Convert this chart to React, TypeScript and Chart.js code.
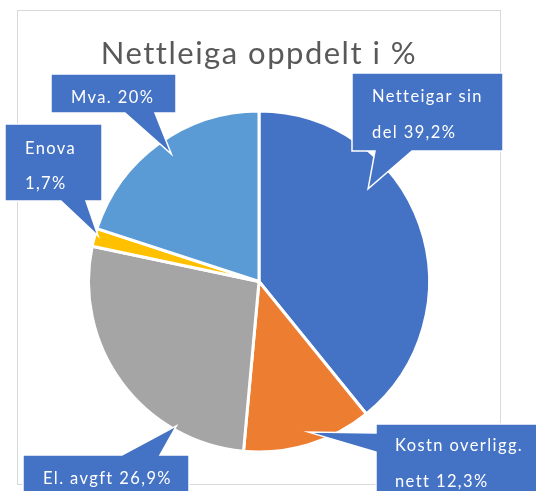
import { useEffect, useRef } from "react";
import { Chart, registerables } from "chart.js";

Chart.register(...registerables);

// ---- data ----
const categories = ["Netteigar sin del", "Kostn overligg. nett", "El. avgft", "Enova", "Mva."];
const shares = [39.2, 12.3, 26.9, 1.7, 20];
const calloutLines = [
  ["Netteigar sin", "del 39,2%"],
  ["Kostn overligg.", "nett 12,3%"],
  ["El. avgft 26,9%"],
  ["Enova", "1,7%"],
  ["Mva. 20%"],
];
const titleText = "Nettleiga oppdelt i %";

// ---- styles ----
const sliceColors = ["#4472C4", "#ED7D31", "#A5A5A5", "#FFC000", "#5B9BD5"];
const calloutColor = "#4472C4";
const FONT = "Lato, 'Open Sans', sans-serif";

type Callout = {
  bx: number; by: number; w: number; h: number;
  tx: number; baselines: number[];
  side: "top" | "bottom" | "left";
  b0: number; b1: number;
  angFrac: number; radFrac: number;
};
// box positions relative to pie center
const calloutLayout: Callout[] = [
  { bx: 93, by: -208.5, w: 151, h: 78, tx: 20, baselines: [29, 65], side: "bottom", b0: 23, b1: 60, angFrac: 0.352, radFrac: 0.84 },
  { bx: 117, by: 142.5, w: 170, h: 82, tx: 19, baselines: [27, 63], side: "left", b0: 9, b1: 28, angFrac: 0.47, radFrac: 0.93 },
  { bx: -236, by: 173.5, w: 166, h: 60, tx: 20, baselines: [29], side: "top", b0: 99, b1: 137, angFrac: 0.254, radFrac: 0.975 },
  { bx: -254, by: -157.5, w: 97, h: 77, tx: 20, baselines: [30, 65], side: "bottom", b0: 56, b1: 81, angFrac: 0.62, radFrac: 0.98 },
  { bx: -208, by: -207.5, w: 125, h: 39, tx: 20, baselines: [29], side: "bottom", b0: 74, b1: 104, angFrac: 0.52, radFrac: 0.907 },
];

const framePlugin = {
  id: "frame",
  beforeDraw(chart: any) {
    const ctx = chart.ctx;
    ctx.save();
    ctx.fillStyle = "#ffffff";
    ctx.fillRect(0, 0, chart.width, chart.height);
    ctx.strokeStyle = "#D9D9D9";
    ctx.lineWidth = 1;
    ctx.strokeRect(17.5, 10.5, 483, 474);
    ctx.restore();
    // wider tracking for the title text
    (ctx as any).letterSpacing = "1.5px";
  },
};

const calloutPlugin = {
  id: "callouts",
  afterDatasetsDraw(chart: any) {
    const ctx = chart.ctx;
    const meta = chart.getDatasetMeta(0);
    meta.data.forEach((arc: any, i: number) => {
      const c = calloutLayout[i];
      const p = arc.getProps(["x", "y", "startAngle", "endAngle", "outerRadius"], true);
      const a = p.startAngle + (p.endAngle - p.startAngle) * c.angFrac;
      const r = p.outerRadius * c.radFrac;
      const tipX = p.x + Math.cos(a) * r;
      const tipY = p.y + Math.sin(a) * r;
      const x0 = p.x + c.bx;
      const y0 = p.y + c.by;
      const x1 = x0 + c.w;
      const y1 = y0 + c.h;
      ctx.save();
      ctx.beginPath();
      ctx.moveTo(x0, y0);
      if (c.side === "top") {
        ctx.lineTo(x0 + c.b0, y0);
        ctx.lineTo(tipX, tipY);
        ctx.lineTo(x0 + c.b1, y0);
      }
      ctx.lineTo(x1, y0);
      ctx.lineTo(x1, y1);
      if (c.side === "bottom") {
        ctx.lineTo(x0 + c.b1, y1);
        ctx.lineTo(tipX, tipY);
        ctx.lineTo(x0 + c.b0, y1);
      }
      ctx.lineTo(x0, y1);
      if (c.side === "left") {
        ctx.lineTo(x0, y0 + c.b1);
        ctx.lineTo(tipX, tipY);
        ctx.lineTo(x0, y0 + c.b0);
      }
      ctx.closePath();
      ctx.fillStyle = calloutColor;
      ctx.fill();
      ctx.strokeStyle = "#ffffff";
      ctx.lineWidth = 1.5;
      ctx.lineJoin = "miter";
      ctx.stroke();
      ctx.fillStyle = "#ffffff";
      ctx.font = `16.5px ${FONT}`;
      (ctx as any).letterSpacing = "1.4px";
      ctx.textAlign = "left";
      ctx.textBaseline = "alphabetic";
      calloutLines[i].forEach((line, k) => {
        ctx.fillText(line, x0 + c.tx, y0 + c.baselines[k]);
      });
      ctx.restore();
    });
  },
};

export default function App() {
  const ref = useRef<HTMLCanvasElement>(null);
  useEffect(() => {
    if (!ref.current) return;
    const chart = new Chart(ref.current, {
      type: "pie",
      data: {
        labels: categories,
        datasets: [
          {
            data: shares,
            backgroundColor: sliceColors,
            borderColor: "#ffffff",
            borderWidth: 3,
          },
        ],
      },
      options: {
        responsive: false,
        animation: false,
        layout: { padding: { left: 87, right: 105, top: 0, bottom: 37.5 } },
        plugins: {
          legend: { display: false },
          tooltip: { enabled: false },
          title: {
            display: true,
            text: titleText,
            color: "#595959",
            font: { family: FONT, size: 31, weight: "normal" },
            padding: { top: 35.4, bottom: 36.9 },
          },
        },
      },
      plugins: [framePlugin, calloutPlugin],
    });
    return () => chart.destroy();
  }, []);
  return (
    <div style={{ position: "absolute", left: 0, top: 0, width: 536, height: 491 }}>
      <canvas ref={ref} width={536} height={491} style={{ width: 536, height: 491 }} />
    </div>
  );
}
